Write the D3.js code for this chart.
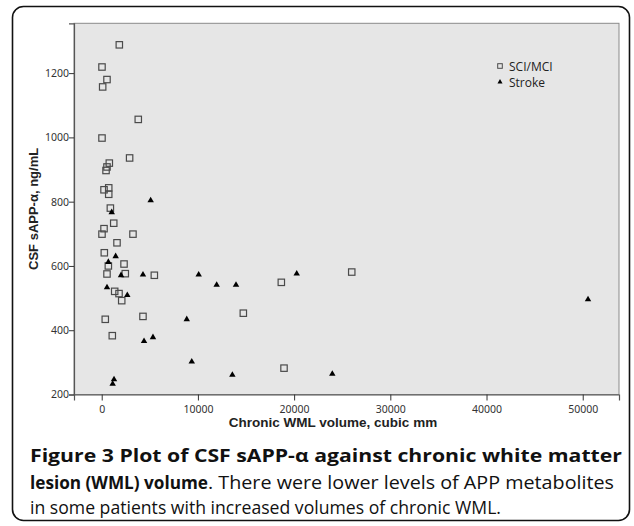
<!DOCTYPE html>
<html>
<head>
<meta charset="utf-8">
<script src="https://cdn.jsdelivr.net/npm/d3@7"></script>
<style>
  body { margin: 0; background: #fff; }
</style>
</head>
<body>
<svg id="chart" width="634" height="526"></svg>
<script>
// CSF sAPP-alpha (ng/mL) against chronic WML volume (cubic mm)
const sciX = [1830, 30, 550, 100, 3800, 30, 2900, 790, 550, 450, 240, 730, 730, 900, 1250, 240, 30, 3250, 1590, 270, 690, 2320, 2450, 550, 5470, 1350, 1800, 2080, 14720, 4290, 370, 1100, 18670, 25990, 18950];
const sciY = [1288, 1219, 1180, 1157, 1056, 998, 936, 920, 908, 897, 837, 843, 823, 780, 733, 716, 699, 699, 672, 641, 600, 606, 576, 575, 571, 521, 514, 492, 453, 443, 434, 383, 549, 581, 282];
const strokeX = [5090, 1040, 1450, 690, 2010, 4290, 10080, 11950, 13960, 550, 2660, 8840, 5330, 4400, 9360, 13580, 1280, 1140, 23970, 20270, 50550];
const strokeY = [804, 767, 630, 612, 571, 573, 573, 541, 541, 533, 509, 434, 378, 366, 302, 261, 247, 233, 264, 576, 496];
const xTicks = [0, 10000, 20000, 30000, 40000, 50000];
const yTicks = [200, 400, 600, 800, 1000, 1200];
const legendLabels = ["SCI/MCI", "Stroke"];

const svg = d3.select("#chart");
const plotLeft = 74, plotRight = 619, plotTop = 23.3, plotBottom = 394.5;

// figure frame
svg.append("rect")
  .attr("x", 12.5).attr("y", 6.5)
  .attr("width", 617).attr("height", 514)
  .attr("rx", 11).attr("ry", 11)
  .attr("fill", "none").attr("stroke", "#111").attr("stroke-width", 1.6);

let xScale = d3.scaleLinear().domain([-2880, 53770]).range([plotLeft, plotRight]);
let yScale = d3.scaleLinear().domain([200, 1355]).range([plotBottom, plotTop]);

svg.append("rect")
  .attr("x", plotLeft).attr("y", plotTop)
  .attr("width", plotRight - plotLeft).attr("height", plotBottom - plotTop)
  .attr("fill", "#e6e6e6").attr("stroke", "#8a8a8a").attr("stroke-width", 1);

let xAxis = d3.axisBottom(xScale).tickValues(xTicks).tickSize(6).tickFormat(d3.format("d"));
let yAxis = d3.axisLeft(yScale).tickValues(yTicks).tickSize(5).tickFormat(d3.format("d"));

const gx = svg.append("g")
  .attr("transform", `translate(0,${plotBottom})`)
  .call(xAxis);
const gy = svg.append("g")
  .attr("transform", `translate(${plotLeft},0)`)
  .call(yAxis);

[gx, gy].forEach((g) => {
  g.select(".domain").attr("stroke", "#555").attr("stroke-width", 1.2);
  g.selectAll(".tick line").attr("stroke", "#333").attr("stroke-width", 1);
  g.selectAll(".tick text")
    .attr("fill", "#333")
    .style("font-family", "'Noto Sans', sans-serif")
    .style("font-size", "10.5px");
});
gx.selectAll(".tick text").attr("dy", "0.9em");
gy.selectAll(".tick text").attr("x", -5);

// axis titles
svg.append("text")
  .attr("x", 333).attr("y", 427)
  .attr("text-anchor", "middle")
  .style("font-family", "'Liberation Sans', Arial, sans-serif")
  .style("font-weight", "bold").style("font-size", "13.5px")
  .attr("fill", "#222")
  .text("Chronic WML volume, cubic mm");

svg.append("text")
  .attr("transform", `translate(38,${(plotTop + plotBottom) / 2}) rotate(-90)`)
  .attr("text-anchor", "middle")
  .style("font-family", "'Liberation Sans', Arial, sans-serif")
  .style("font-weight", "bold").style("font-size", "13px")
  .attr("fill", "#222")
  .text("CSF sAPP-\u03b1, ng/mL");

// points
const sci = sciX.map((v, i) => ({ x: v, y: sciY[i] }));
const stroke = strokeX.map((v, i) => ({ x: v, y: strokeY[i] }));

svg.append("g").selectAll("rect")
  .data(sci).enter()
  .append("rect")
  .attr("x", (d) => xScale(d.x) - 3.2)
  .attr("y", (d) => yScale(d.y) - 3.2)
  .attr("width", 6.4).attr("height", 6.4)
  .attr("fill", "none").attr("stroke", "#4a4a4a").attr("stroke-width", 1.2);

svg.append("g").selectAll("path")
  .data(stroke).enter()
  .append("path")
  .attr("transform", (d) => `translate(${xScale(d.x)},${yScale(d.y)})`)
  .attr("d", d3.symbol(d3.symbolTriangle, 18))
  .attr("fill", "#000");

// legend
const lg = svg.append("g").attr("transform", "translate(500,66)");
lg.append("rect").attr("x", -2.3).attr("y", -2.3).attr("width", 4.6).attr("height", 4.6)
  .attr("fill", "none").attr("stroke", "#4a4a4a").attr("stroke-width", 1);
lg.append("path").attr("transform", "translate(0,16)")
  .attr("d", d3.symbol(d3.symbolTriangle, 11)).attr("fill", "#000");
lg.selectAll("text.lab")
  .data(legendLabels).enter()
  .append("text")
  .attr("class", "lab")
  .attr("x", 9).attr("y", (d, i) => 4.5 + i * 16)
  .style("font-family", "'Open Sans', sans-serif")
  .style("font-size", "12px")
  .attr("fill", "#222")
  .text((d) => d);

// caption
const cap = svg.append("g")
  .style("font-family", "'Open Sans', sans-serif")
  .style("font-size", "18px")
  .attr("fill", "#111");
cap.append("text").attr("x", 30).attr("y", 462)
  .style("font-weight", "bold")
  .attr("textLength", 592).attr("lengthAdjust", "spacingAndGlyphs")
  .text("Figure 3 Plot of CSF sAPP-\u03b1 against chronic white matter");
cap.append("text").attr("x", 30).attr("y", 489)
  .style("font-weight", "bold")
  .attr("textLength", 178).attr("lengthAdjust", "spacingAndGlyphs")
  .text("lesion (WML) volume");
cap.append("text").attr("x", 208).attr("y", 489)
  .attr("textLength", 406).attr("lengthAdjust", "spacingAndGlyphs")
  .text(". There were lower levels of APP metabolites");
cap.append("text").attr("x", 30).attr("y", 514)
  .attr("textLength", 471).attr("lengthAdjust", "spacingAndGlyphs")
  .text("in some patients with increased volumes of chronic WML.");
</script>
</body>
</html>
